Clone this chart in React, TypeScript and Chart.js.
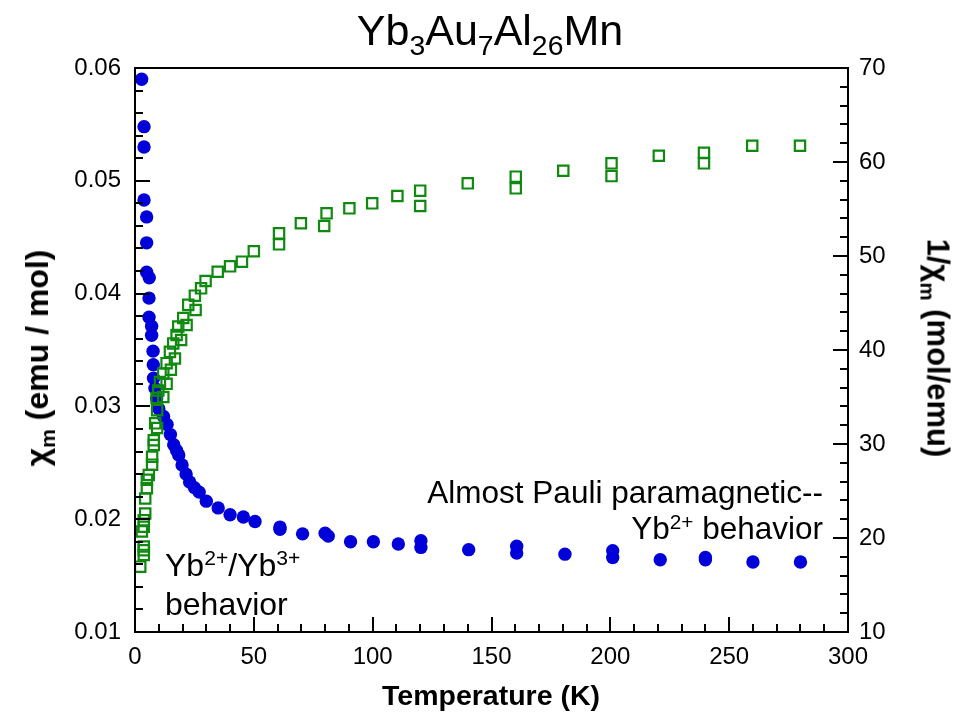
import React, { useEffect, useRef } from 'react';
import { Chart, registerables } from 'chart.js';

Chart.register(...registerables);

const W = 969;
const H = 717;
const FONT = '"Liberation Sans", Arial, Helvetica, sans-serif';

// chi_m (emu/mol) vs temperature, left axis
const chiTemp = [
  2.8, 3.8, 3.8, 3.8, 4.9, 4.9, 4.9, 6.0, 5.9, 5.9, 7.0, 7.0, 7.6, 7.7, 7.8, 8.4, 9.1, 10.0,
  12.0, 13.5, 14.9, 16.3, 17.5, 18.4, 19.8, 21.5, 23.0, 25.0, 27.0, 30.0, 35.0, 40.0, 45.6,
  50.5, 61, 61, 70.5, 80, 81.3, 90.7, 100.3, 110.8, 120.3, 120.3, 140.4, 160.6, 160.6,
  180.9, 201, 201, 221, 240, 240, 260, 280,
];
const chiValues = [
  0.059, 0.0548, 0.053, 0.0483, 0.0468, 0.0445, 0.0419, 0.0414, 0.0396, 0.0379, 0.0371,
  0.0363, 0.0349, 0.0337, 0.0325, 0.0316, 0.0307, 0.0298, 0.0291, 0.0284, 0.0275, 0.0266,
  0.0261, 0.0257, 0.0248, 0.024, 0.0233, 0.0228, 0.0224, 0.0216, 0.021, 0.0204, 0.0202,
  0.0198, 0.0193, 0.0191, 0.0187, 0.01875, 0.0185, 0.018, 0.018, 0.0178, 0.0181, 0.0175,
  0.0173, 0.0176, 0.017, 0.0169, 0.0172, 0.0166, 0.0164, 0.0166, 0.0164, 0.0162, 0.0162,
];

// 1/chi_m (mol/emu) vs temperature, right axis
const invTemp = [
  2.2, 2.9, 3.7, 3.7, 3.7, 3.7, 3.7, 4.3, 4.3, 5.0, 5.0, 5.8, 7.2, 7.2, 7.9, 7.9, 8.5, 9.3,
  9.3, 9.1, 9.8, 10.5, 11.9, 11.9, 13.3, 13.3, 14.7, 15.1, 16.1, 16.8, 17.5, 18.2, 19.4,
  20.3, 21.7, 22.4, 25.5, 25.2, 27.8, 29.7, 34.8, 40, 45, 50, 60.6, 60.6, 69.8, 79.6, 80.6,
  90.2, 99.8, 110.4, 120, 120, 140, 160.2, 160.2, 180.2, 200.5, 200.5, 220.4, 239.4, 239.4,
  259.7, 279.8,
];
const invValues = [
  16.95, 20.7, 19.1, 18.7, 18.2, 21.9, 21.2, 24.2, 22.6, 26.2, 25.3, 26.7, 28.65, 27.8,
  30.4, 29.9, 32.2, 31.7, 33.6, 34.9, 35.7, 36.6, 35.0, 37.5, 36.4, 38.6, 39.8, 37.9, 40.7,
  39.1, 41.6, 42.5, 41.06, 43.4, 42.66, 44.8, 44.26, 45.78, 46.56, 47.34, 48.33, 48.9, 49.4,
  50.5, 52.41, 51.24, 53.48, 53.19, 54.54, 55.07, 55.6, 56.38, 56.95, 55.32, 57.73, 58.44,
  57.2, 59.07, 59.86, 58.5, 60.67, 60.99, 59.86, 61.73, 61.73,
];

// axis settings
const xMin = 0, xMax = 300, xStep = 50, xMinorPerMajor = 5;
const yMin = 0.01, yMax = 0.06, yStep = 0.01, yMinorPerMajor = 5;
const y2Min = 10, y2Max = 70, y2Step = 10, y2MinorPerMajor = 5;

const BLUE = '#0000d8';
const GREEN = '#0f890f';

const framePlugin = {
  id: 'frameTicks',
  afterDraw(chart: any) {
    const { ctx, chartArea } = chart;
    const { left, right, top, bottom } = chartArea;
    const MAJ = 15;
    const MIN = 8;
    ctx.save();
    ctx.strokeStyle = '#000';
    ctx.lineWidth = 2;
    ctx.strokeRect(left, top, right - left, bottom - top);
    ctx.beginPath();
    const xs = chart.scales.x;
    const nX = Math.round((xMax - xMin) / xStep) * xMinorPerMajor;
    for (let i = 0; i <= nX; i++) {
      const v = xMin + (i * xStep) / xMinorPerMajor;
      const p = Math.round(xs.getPixelForValue(v));
      const len = i % xMinorPerMajor === 0 ? MAJ : MIN;
      ctx.moveTo(p, bottom);
      ctx.lineTo(p, bottom - len);
    }
    const ys = chart.scales.y;
    const nY = Math.round((yMax - yMin) / yStep) * yMinorPerMajor;
    for (let i = 0; i <= nY; i++) {
      const v = yMin + (i * yStep) / yMinorPerMajor;
      const p = Math.round(ys.getPixelForValue(v));
      const len = i % yMinorPerMajor === 0 ? MAJ : MIN;
      ctx.moveTo(left, p);
      ctx.lineTo(left + len, p);
    }
    const y2s = chart.scales.y2;
    const nY2 = Math.round((y2Max - y2Min) / y2Step) * y2MinorPerMajor;
    for (let i = 0; i <= nY2; i++) {
      const v = y2Min + (i * y2Step) / y2MinorPerMajor;
      const p = Math.round(y2s.getPixelForValue(v));
      const len = i % y2MinorPerMajor === 0 ? MAJ : MIN;
      ctx.moveTo(right, p);
      ctx.lineTo(right - len, p);
    }
    ctx.stroke();
    ctx.restore();
  },
};

const sup = (t: string) => (
  <span style={{ fontSize: '0.66em', position: 'relative', top: '-0.5em' }}>{t}</span>
);
const sub = (t: string) => (
  <span style={{ fontSize: '0.66em', position: 'relative', top: '0.35em' }}>{t}</span>
);

const base: React.CSSProperties = {
  position: 'absolute',
  fontFamily: FONT,
  color: '#000',
  lineHeight: 1,
  whiteSpace: 'nowrap',
};

export default function App() {
  const ref = useRef<HTMLCanvasElement>(null);

  useEffect(() => {
    if (!ref.current) return;
    const chart = new Chart(ref.current, {
      type: 'scatter',
      data: {
        datasets: [
          {
            label: '1/χm',
            data: invTemp.map((t, i) => ({ x: t, y: invValues[i] })),
            yAxisID: 'y2',
            pointStyle: 'rect',
            pointRadius: 7.3,
            pointBorderWidth: 2.2,
            borderColor: GREEN,
            backgroundColor: 'rgba(0,0,0,0)',
            pointBackgroundColor: 'rgba(0,0,0,0)',
            pointBorderColor: GREEN,
          },
          {
            label: 'χm',
            data: chiTemp.map((t, i) => ({ x: t, y: chiValues[i] })),
            yAxisID: 'y',
            pointStyle: 'circle',
            pointRadius: 6.7,
            pointBorderWidth: 0,
            backgroundColor: BLUE,
            pointBackgroundColor: BLUE,
            borderColor: BLUE,
          },
        ],
      },
      options: {
        responsive: false,
        animation: false,
        events: [],
        layout: { padding: { top: 68, left: 0, right: 0, bottom: 0 } },
        plugins: { legend: { display: false }, tooltip: { enabled: false }, title: { display: false } },
        scales: {
          x: {
            type: 'linear',
            min: xMin,
            max: xMax,
            grid: { display: false, drawTicks: false },
            border: { display: false },
            ticks: { stepSize: xStep, padding: 11, color: '#000', font: { family: FONT, size: 24 } },
            afterFit: (s: any) => {
              s.height = 85;
            },
          },
          y: {
            type: 'linear',
            position: 'left',
            min: yMin,
            max: yMax,
            grid: { display: false, drawTicks: false },
            border: { display: false },
            ticks: {
              stepSize: yStep,
              padding: 14,
              color: '#000',
              font: { family: FONT, size: 24 },
              callback: (v: any) => Number(v).toFixed(2),
            },
            afterFit: (s: any) => {
              s.width = 135;
            },
          },
          y2: {
            type: 'linear',
            position: 'right',
            min: y2Min,
            max: y2Max,
            grid: { display: false, drawTicks: false },
            border: { display: false },
            ticks: { stepSize: y2Step, padding: 11, color: '#000', font: { family: FONT, size: 24 } },
            afterFit: (s: any) => {
              s.width = W - 848;
            },
          },
        },
      },
      plugins: [framePlugin],
    } as any);
    return () => chart.destroy();
  }, []);

  return (
    <div style={{ position: 'fixed', left: 0, top: 0, width: W, height: H, background: '#fff', overflow: 'hidden' }}>
      <canvas ref={ref} width={W} height={H} style={{ position: 'absolute', left: 0, top: 0, width: W, height: H }} />
      <div style={{ ...base, left: 490, top: 30, fontSize: 43, transform: 'translate(-50%, -50%)' }}>
        Yb{sub('3')}Au{sub('7')}Al{sub('26')}Mn
      </div>
      <div style={{ ...base, left: 491, top: 695, fontSize: 28.5, fontWeight: 'bold', transform: 'translate(-50%, -50%)' }}>
        Temperature (K)
      </div>
      <div
        style={{ ...base, left: 37, top: 358, fontSize: 32, fontWeight: 'bold', transform: 'translate(-50%, -50%) rotate(-90deg)' }}
      >
        χ{sub('m')} (emu / mol)
      </div>
      <div
        style={{ ...base, left: 938, top: 348, fontSize: 31, fontWeight: 'bold', transform: 'translate(-50%, -50%) rotate(90deg)' }}
      >
        1/χ{sub('m')} (mol/emu)
      </div>
      <div style={{ ...base, left: 165, top: 565, fontSize: 32, transform: 'translateY(-50%)' }}>
        Yb{sup('2+')}/Yb{sup('3+')}
      </div>
      <div style={{ ...base, left: 165, top: 604, fontSize: 32, transform: 'translateY(-50%)' }}>behavior</div>
      <div style={{ ...base, right: W - 823, top: 493, fontSize: 31.5, transform: 'translateY(-50%)' }}>
        Almost Pauli paramagnetic--
      </div>
      <div style={{ ...base, right: W - 823, top: 529, fontSize: 31.5, transform: 'translateY(-50%)' }}>
        Yb{sup('2+')} behavior
      </div>
    </div>
  );
}
